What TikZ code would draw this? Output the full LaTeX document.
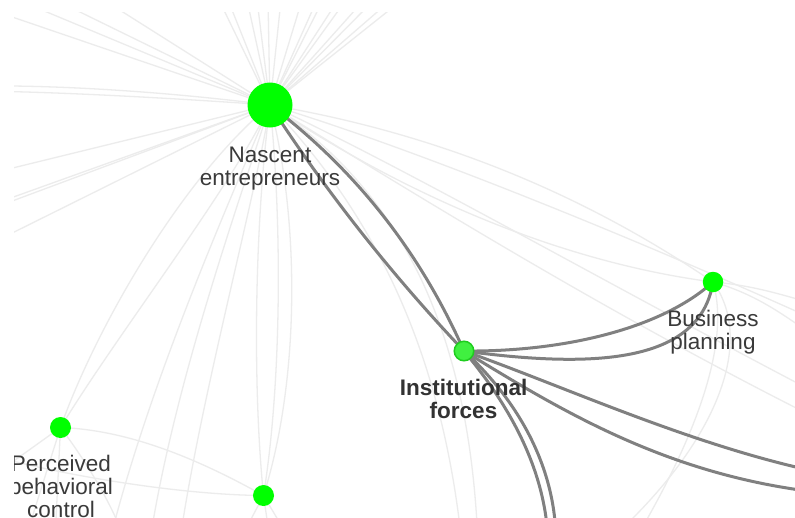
\documentclass[tikz,border=0pt]{standalone}
\usepackage{fontspec}
\setmainfont{Liberation Sans}
\definecolor{lightedge}{RGB}{236,236,236}
\definecolor{darkedge}{RGB}{128,128,128}
\definecolor{nodegreen}{RGB}{0,255,0}
\definecolor{selfill}{RGB}{64,240,64}
\definecolor{selborder}{RGB}{30,205,30}
\definecolor{labeltext}{RGB}{58,58,58}
\begin{document}
\begin{tikzpicture}[x=1pt,y=-1pt,
  faint/.style={draw=lightedge,line width=1.3pt},
  strong/.style={draw=darkedge,line width=3pt},
  vnode/.style={circle,fill=nodegreen,inner sep=0pt},
  vlabel/.style={font=\fontsize{22.5}{23}\selectfont,text=labeltext,align=center,anchor=base,inner sep=0pt}]
\useasboundingbox (0,0) rectangle (795,517);
\fill[white] (0,0) rectangle (795,517);
\begin{scope}
\clip (14,12) rectangle (795,517);
% node positions
\coordinate (N) at (270,105);
\coordinate (I) at (464,351);
\coordinate (B) at (713,282);
\coordinate (P) at (60.5,427.5);
\coordinate (U) at (263.5,495.5);
% off-screen ends
\coordinate (t1) at (-20,6);   \coordinate (t2) at (-6,-10);
\coordinate (t3) at (35,-10);  \coordinate (t4) at (88,-10);
\coordinate (w1) at (-20,86);  \coordinate (w2) at (-20,91);
\coordinate (w3) at (-20,176); \coordinate (w4) at (-20,209);
\coordinate (w5) at (-20,213); \coordinate (w6) at (-20,249);
\foreach \k/\x in {1/219,2/228,3/247,4/257,5/268,6/281,7/302,8/317,9/323,10/338,11/346,12/364,13/374,14/391,15/402}
  {\coordinate (u\k) at (\x,0);}
\coordinate (r2) at (820,322); \coordinate (r3) at (820,395); \coordinate (r4) at (820,420);
\coordinate (d1) at (462,545); \coordinate (d2) at (478,545);
\coordinate (l1) at (110,540); \coordinate (l2) at (180,540); \coordinate (l3) at (150,540);
\coordinate (q1) at (-10,455);
\coordinate (p1) at (-10,478); \coordinate (p2) at (25,540); \coordinate (p3) at (55,540); \coordinate (p4) at (125,540);
\coordinate (v1) at (240,540); \coordinate (v2) at (270,540); \coordinate (v3) at (290,540);
\coordinate (b1) at (820,305); \coordinate (b2) at (820,340);
\coordinate (b3) at (610,540); \coordinate (b4) at (635,540);
\coordinate (e1) at (800,468); \coordinate (e2) at (800,490);
\coordinate (f1) at (548,540); \coordinate (f2) at (556,540);
% faint edges
\foreach \t in {t1,t2,t3,t4,w3,w4,w5,w6} {\draw[faint] (N) -- (\t);}
\draw[faint] (N) .. controls (170,92) and (60,85) .. (w1);
\draw[faint] (N) .. controls (170,98) and (60,92) .. (w2);
\foreach \k in {1,...,15} {\draw[faint] (N) -- (u\k);}
\draw[faint] (N) .. controls (430,132) and (578,190) .. (B);
\draw[faint] (N) .. controls (405,195) and (560,262) .. (B);
\draw[faint] (N) .. controls (420,150) and (650,245) .. (r2);
\draw[faint] (N) .. controls (400,165) and (600,280) .. (r3);
\draw[faint] (N) .. controls (400,185) and (600,310) .. (r4);
\draw[faint] (N) .. controls (360,200) and (440,330) .. (d1);
\draw[faint] (N) .. controls (400,190) and (470,330) .. (d2);
\draw[faint] (N) .. controls (300,220) and (300,380) .. (U);
\draw[faint] (N) .. controls (282,220) and (282,380) .. (U);
\draw[faint] (N) .. controls (255,220) and (252,380) .. (U);
\draw[faint] (N) .. controls (180,180) and (95,330) .. (P);
\draw[faint] (N) .. controls (230,190) and (120,330) .. (P);
\draw[faint] (N) .. controls (230,200) and (150,380) .. (l1);
\draw[faint] (N) .. controls (255,200) and (200,400) .. (l2);
\draw[faint] (N) .. controls (240,200) and (175,380) .. (l3);
\draw[faint] (P) .. controls (130,430) and (200,460) .. (U);
\draw[faint] (q1) .. controls (60,475) and (180,495) .. (U);
\foreach \t in {p1,p2,p3} {\draw[faint] (P) -- (\t);}
\draw[faint] (P) .. controls (85,460) and (110,500) .. (p4);
\foreach \t in {v1,v2,v3} {\draw[faint] (U) -- (\t);}
\draw[faint] (B) .. controls (760,286) and (790,298) .. (b1);
\draw[faint] (B) .. controls (760,295) and (790,320) .. (b2);
\draw[faint] (B) .. controls (755,340) and (720,440) .. (b3);
\draw[faint] (B) .. controls (730,340) and (700,430) .. (b4);
% strong edges
\draw[strong] (N) .. controls (327,193) and (392,275) .. (I);
\draw[strong] (N) .. controls (356,170) and (420,252) .. (I);
\draw[strong] (I) .. controls (560,352) and (660,330) .. (B);
\draw[strong] (I) .. controls (590,368) and (700,365) .. (B);
\draw[strong] (I) .. controls (560,385) and (680,440) .. (e1);
\draw[strong] (I) .. controls (560,410) and (660,470) .. (e2);
\draw[strong] (I) .. controls (505,400) and (545,465) .. (f1);
\draw[strong] (I) .. controls (512,395) and (555,460) .. (f2);
% nodes
\node[vnode,minimum size=45pt] (nN) at (N) {};
\node[circle,fill=selfill,draw=selborder,line width=1.5pt,minimum size=19.5pt,inner sep=0pt] (nI) at (I) {};
\node[vnode,minimum size=20.5pt] (nB) at (B) {};
\node[vnode,minimum size=21pt] (nP) at (P) {};
\node[vnode,minimum size=21pt] (nU) at (U) {};
% labels (anchor = baseline of last line)
\node[vlabel] (tN) at (270,185) {Nascent\\entrepreneurs};
\node[vlabel] (tB) at (713,349) {Business\\planning};
\node[vlabel,font=\fontsize{22.5}{23}\selectfont\bfseries,text={rgb,255:red,50;green,50;blue,50}] (tI) at (463.5,418) {Institutional\\forces};
\node[vlabel] (tP) at (61,517) {Perceived\\behavioral\\control};
\end{scope}
\end{tikzpicture}
\end{document}
